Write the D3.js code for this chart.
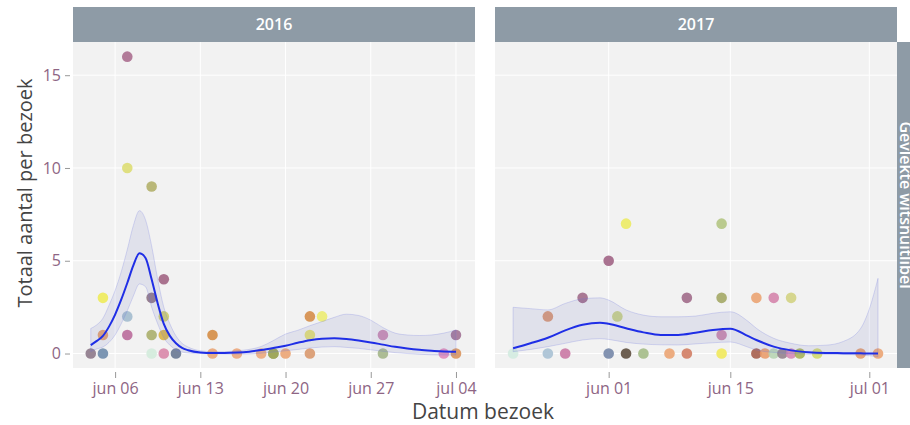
<!DOCTYPE html>
<html><head><meta charset="utf-8">
<script src="https://cdn.jsdelivr.net/npm/d3@7"></script>
<style>html,body{margin:0;padding:0;background:#fff;}svg{display:block;font-family:"Open Sans",sans-serif;}</style>
</head><body><svg id="c" width="910" height="425"></svg>
<script>
const years = ["2016", "2017"];
const rowStripLabel = "Gevlekte witsnuitlibel";
const yTicks = [0, 5, 10, 15];
const xTicks2016 = ["2016-06-06", "2016-06-13", "2016-06-20", "2016-06-27", "2016-07-04"];
const xTicks2017 = ["2017-06-01", "2017-06-15", "2017-07-01"];
const xLimits2016 = ["2016-06-02T13:00", "2016-07-05T13:30"];
const xLimits2017 = ["2017-05-18T22:00", "2017-07-04T04:30"];
const yLimits = [-0.78, 16.79];

const dates2016 = ["2016-06-04","2016-06-05","2016-06-05","2016-06-05","2016-06-07","2016-06-07","2016-06-07","2016-06-07",
  "2016-06-09","2016-06-09","2016-06-09","2016-06-09","2016-06-10","2016-06-10","2016-06-10","2016-06-10","2016-06-11",
  "2016-06-14","2016-06-14","2016-06-16","2016-06-18","2016-06-19","2016-06-19","2016-06-20","2016-06-22","2016-06-22",
  "2016-06-22","2016-06-23","2016-06-28","2016-06-28","2016-07-03","2016-07-04","2016-07-04"];
const values2016 = [0,0,3,1,16,10,2,1, 9,3,1,0,4,2,1,0,0, 1,0,0,0,0,0,0,2,1, 0,2,1,0,0,1,0];
const colors2016 = ["#8a7586","#6a87a8","#eeea55","#e49c66","#a86a8c","#dcdc70","#a0bacd","#b86898",
  "#b0ae66","#8a7082","#a8ad68","#d2eadb","#9e6080","#cccc66","#d8b040","#d884a6","#647490",
  "#d48a40","#e8a474","#eaa478","#eca678","#8e9848","#a0a85c","#eaa270","#d48a44","#e4e068",
  "#d8966a","#ecec6e","#c884ae","#a2b486","#e088b8","#9e6e92","#d8925a"];

const dates2017 = ["2017-05-21","2017-05-25","2017-05-25","2017-05-27","2017-05-29","2017-06-01","2017-06-01","2017-06-02",
  "2017-06-03","2017-06-03","2017-06-05","2017-06-08","2017-06-10","2017-06-10","2017-06-14","2017-06-14","2017-06-14",
  "2017-06-14","2017-06-18","2017-06-18","2017-06-19","2017-06-20","2017-06-20","2017-06-21","2017-06-22","2017-06-22",
  "2017-06-23","2017-06-25","2017-06-30","2017-07-02"];
const values2017 = [0,2,0,0,3,5,0,2, 7,0,0,0,3,0,7,3,1, 0,3,0,0,3,0,0,3,0, 0,0,0,0];
const colors2017 = ["#d2eadf","#d8926a","#a6bfd3","#c874a2","#9e6886","#9e6082","#7284a6","#c6d07c",
  "#ecea60","#5a4a3a","#a2ba84","#eaa270","#9e6886","#d07a60","#b2c480","#a2a662","#c882a6",
  "#f0e858","#eaa270","#a45a48","#e89a68","#d482aa","#b6d4b2","#927e8a","#d2d280","#d486b2",
  "#a6b252","#d2da68","#e49a68","#eaa270"];

const smoothDates2016 = ["2016-06-04T00:00","2016-06-04T12:00","2016-06-05T00:00","2016-06-05T12:00","2016-06-06T00:00",
  "2016-06-06T12:00","2016-06-07T00:00","2016-06-07T12:00","2016-06-08T00:00","2016-06-08T12:00","2016-06-09T00:00",
  "2016-06-09T12:00","2016-06-10T00:00","2016-06-10T12:00","2016-06-11T00:00","2016-06-11T12:00","2016-06-12T00:00",
  "2016-06-13T00:00","2016-06-14T00:00","2016-06-15T00:00","2016-06-16T00:00","2016-06-17T00:00","2016-06-18T00:00",
  "2016-06-19T00:00","2016-06-20T00:00","2016-06-21T00:00","2016-06-22T00:00","2016-06-23T00:00","2016-06-24T00:00",
  "2016-06-25T00:00","2016-06-26T00:00","2016-06-27T00:00","2016-06-28T00:00","2016-06-29T00:00","2016-06-30T00:00",
  "2016-07-01T00:00","2016-07-02T00:00","2016-07-03T00:00","2016-07-04T00:00"];
const smoothFit2016 = [0.45,0.68,0.95,1.45,2.1,2.9,3.8,4.75,5.4,5.15,4.0,2.7,1.6,0.95,0.55,0.3,0.18,
  0.06,0.03,0.03,0.05,0.1,0.19,0.3,0.42,0.58,0.72,0.8,0.82,0.78,0.7,0.6,0.48,0.36,0.27,0.2,0.15,0.11,0.1];
const smoothHi2016 = [1.35,1.55,1.9,2.6,3.4,4.4,5.6,6.9,7.7,7.2,5.8,4.0,2.5,1.6,0.95,0.55,0.35,
  0.15,0.1,0.1,0.15,0.22,0.38,0.7,1.05,1.25,1.5,1.72,1.95,2.12,2.05,1.8,1.4,1.1,1.0,0.97,1.0,1.1,1.27];
const smoothLo2016 = [0.1,0.25,0.35,0.6,1.0,1.6,2.3,3.1,3.75,3.6,2.5,1.6,0.85,0.45,0.2,0.08,0.03,
  0,0,-0.02,-0.03,-0.02,0.02,0.08,0.15,0.22,0.3,0.35,0.37,0.33,0.28,0.2,0.12,0.05,0,-0.04,-0.07,-0.08,-0.08];

const smoothDates2017 = ["2017-05-21","2017-05-23","2017-05-25","2017-05-27","2017-05-29","2017-05-31","2017-06-01",
  "2017-06-03","2017-06-05","2017-06-07","2017-06-09","2017-06-11","2017-06-13","2017-06-15","2017-06-17","2017-06-18",
  "2017-06-20","2017-06-22","2017-06-24","2017-06-26","2017-06-28","2017-06-30","2017-07-01","2017-07-02"];
const smoothFit2017 = [0.28,0.55,0.85,1.25,1.55,1.66,1.6,1.36,1.14,1.0,1.0,1.12,1.27,1.34,0.95,0.73,0.37,0.17,0.07,0.03,0.02,0.01,0.0,0.0];
const smoothHi2017 = [2.49,2.42,2.35,2.7,2.95,3.0,2.88,2.35,2.07,1.98,1.98,2.02,2.17,2.25,1.75,1.36,0.82,0.55,0.42,0.45,0.65,1.35,2.4,4.05];
const smoothLo2017 = [0.1,0.22,0.37,0.55,0.73,0.8,0.76,0.6,0.51,0.47,0.46,0.52,0.58,0.62,0.35,0.19,0.06,0.0,-0.03,-0.04,-0.05,-0.08,-0.12,-0.17];

const parseD = s => new Date(s.length > 10 ? s + ":00Z" : s + "T00:00:00Z");

const svg = d3.select("#c");
const plotTop = 42, plotBottom = 368, stripTop = 7;
const panelsX = [[73, 475], [495, 897]];
const tickColor = "#8e6584";
const panels = [
  {year: years[0], lim: xLimits2016, ticks: xTicks2016, dates: dates2016, values: values2016, colors: colors2016,
   sd: smoothDates2016, fit: smoothFit2016, hi: smoothHi2016, lo: smoothLo2016},
  {year: years[1], lim: xLimits2017, ticks: xTicks2017, dates: dates2017, values: values2017, colors: colors2017,
   sd: smoothDates2017, fit: smoothFit2017, hi: smoothHi2017, lo: smoothLo2017}
];

const y = d3.scaleLinear().domain(yLimits).range([plotBottom, plotTop]);
const fmt = d3.utcFormat("%b %d");

panels.forEach((p, i) => {
  const [x0, x1] = panelsX[i];
  const x = d3.scaleUtc().domain(p.lim.map(parseD)).range([x0, x1]);
  const g = svg.append("g");
  g.append("rect").attr("x", x0).attr("y", plotTop).attr("width", x1 - x0).attr("height", plotBottom - plotTop).attr("fill", "#f2f2f2");
  g.selectAll(".gy").data(yTicks).join("line").attr("x1", x0).attr("x2", x1)
    .attr("y1", d => y(d)).attr("y2", d => y(d)).attr("stroke", "#fff").attr("stroke-width", 1);
  const tks = p.ticks.map(parseD);
  g.selectAll(".gx").data(tks).join("line").attr("x1", d => x(d)).attr("x2", d => x(d))
    .attr("y1", plotTop).attr("y2", plotBottom).attr("stroke", "#fff").attr("stroke-width", 1);
  g.append("rect").attr("x", x0).attr("y", stripTop).attr("width", x1 - x0).attr("height", plotTop - stripTop).attr("fill", "#8e9ba6");
  g.append("text").attr("x", (x0 + x1) / 2).attr("y", (stripTop + plotTop) / 2).attr("dy", "0.35em")
    .attr("text-anchor", "middle").attr("fill", "#fff").attr("font-size", 16).attr("font-weight", 600).text(p.year);
  const xa = svg.append("g").attr("transform", `translate(0,${plotBottom + 4})`)
    .call(d3.axisBottom(x).tickValues(tks).tickSize(6).tickPadding(5).tickFormat(d => fmt(d).toLowerCase()));
  xa.select(".domain").remove();
  xa.selectAll(".tick line").attr("stroke", "#999");
  xa.selectAll(".tick text").attr("fill", tickColor).attr("font-size", 16).attr("font-family", "Open Sans");
  const cid = "clip" + i;
  svg.append("clipPath").attr("id", cid).append("rect").attr("x", x0).attr("y", plotTop).attr("width", x1 - x0).attr("height", plotBottom - plotTop);
  const pg = svg.append("g").attr("clip-path", `url(#${cid})`);
  const pts = p.dates.map((d, k) => ({d: parseD(d), v: p.values[k], c: p.colors[k]}));
  pg.selectAll("circle").data(pts).join("circle").attr("cx", d => x(d.d)).attr("cy", d => y(d.v)).attr("r", 5.3)
    .attr("fill", d => d.c).attr("opacity", 0.88);
  const sm = p.sd.map((d, k) => ({d: parseD(d), f: p.fit[k], lo: p.lo[k], hi: p.hi[k]}));
  pg.append("path").datum(sm)
    .attr("d", d3.area().x(d => x(d.d)).y0(d => y(d.lo)).y1(d => y(d.hi)).curve(d3.curveMonotoneX))
    .attr("fill", "rgba(95,105,190,0.12)").attr("stroke", "rgba(110,120,225,0.25)").attr("stroke-width", 1);
  pg.append("path").datum(sm)
    .attr("d", d3.line().x(d => x(d.d)).y(d => y(d.f)).curve(d3.curveMonotoneX))
    .attr("fill", "none").attr("stroke", "#1f2ee6").attr("stroke-width", 2);
});

const ya = svg.append("g").attr("transform", `translate(${panelsX[0][0] - 3},0)`)
  .call(d3.axisLeft(y).tickValues(yTicks).tickSize(5).tickPadding(4));
ya.select(".domain").remove();
ya.selectAll(".tick line").attr("stroke", "#999");
ya.selectAll(".tick text").attr("fill", tickColor).attr("font-size", 16).attr("font-family", "Open Sans");

svg.append("rect").attr("x", 897).attr("y", plotTop).attr("width", 30).attr("height", plotBottom - plotTop).attr("fill", "#8e9ba6");
svg.append("text").attr("transform", `translate(906,${(plotTop + plotBottom) / 2}) rotate(90)`).attr("text-anchor", "middle")
  .attr("dy", "0.35em").attr("fill", "#fff").attr("font-size", 16).attr("font-weight", 600).text(rowStripLabel);

svg.append("text").attr("transform", `translate(25,${(plotTop + plotBottom) / 2 - 12}) rotate(-90)`).attr("text-anchor", "middle")
  .attr("dy", "0.35em").attr("fill", "#444").attr("font-size", 20).text("Totaal aantal per bezoek");
svg.append("text").attr("x", 483).attr("y", 419).attr("text-anchor", "middle")
  .attr("fill", "#444").attr("font-size", 21).text("Datum bezoek");
</script></body></html>
